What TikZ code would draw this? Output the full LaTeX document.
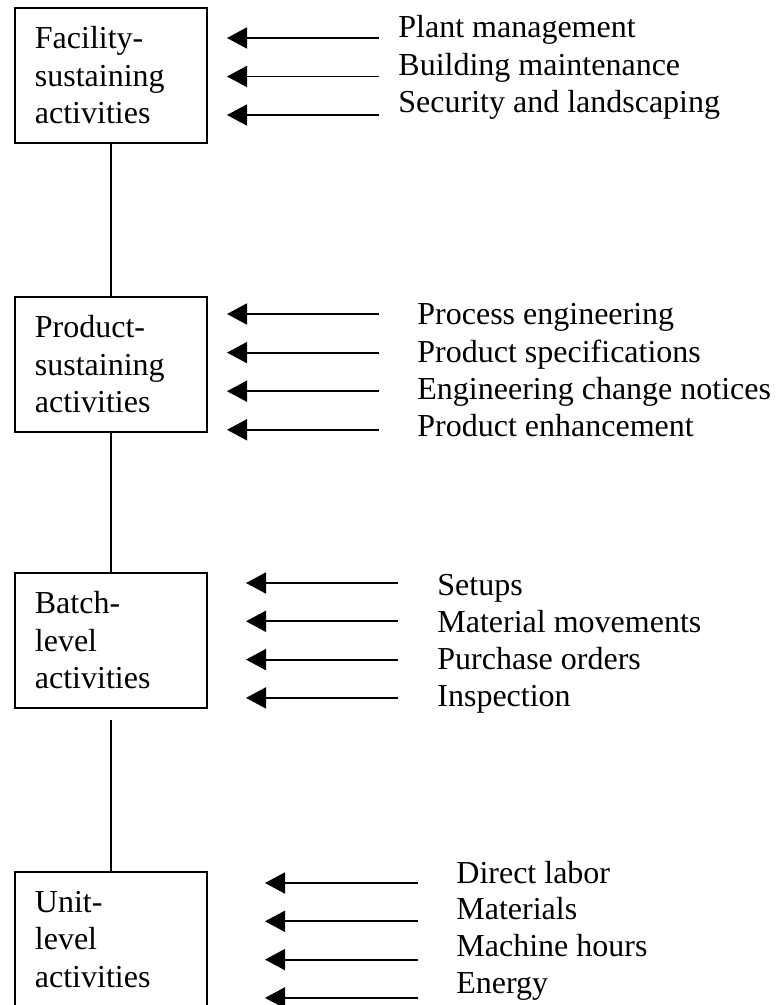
\documentclass[tikz,border=0pt]{standalone}
\usepackage{fontspec}
\setmainfont{Liberation Serif}
\usetikzlibrary{arrows.meta,positioning}

\begin{document}
\begin{tikzpicture}[x=0.5pt,y=-0.5pt,
  mybox/.style={draw,rectangle,line width=0.9pt,anchor=north west,minimum width=96pt,minimum height=67.5pt,
    text width=76pt,inner xsep=10pt,align=left,font=\fontsize{16}{18.7}\selectfont},
  mytext/.style={anchor=base west,inner sep=0pt,font=\fontsize{16}{18.7}\selectfont},
  myarrow/.style={-{Triangle[length=10pt,width=10.5pt]},line width=0.9pt},
  myline/.style={line width=0.9pt}
]
\useasboundingbox (0,0) rectangle (778,1005);
\clip (0,0) rectangle (778,1005);

% the four levels
\node[mybox] (F) at (14,7) {Facility-\\sustaining\\activities};
\node[mybox] (P) at (14,296) {Product-\\sustaining\\activities};
\node[mybox] (B) at (14,572) {Batch-\\level\\activities};
\node[mybox] (U) at (14,871) {Unit-\\level\\activities};

\draw[myline] (F.south) -- (P.north);
\draw[myline] (P.south) -- (B.north);
\draw[myline] ([yshift=-5.5pt]B.south) -- (U.north);

% facility level
\foreach \t [count=\i] in {Plant management,Building maintenance,Security and landscaping}{
\node[mytext] (F\i) at (398,{38+37.2*(\i-1)}) {\t};
\coordinate (Fa\i) at (379,{38+38.5*(\i-1)});
\coordinate (Fb\i) at (227,{38+38.5*(\i-1)});
\draw[myarrow] (Fa\i) -- (Fb\i);
}

% product level
\foreach \t [count=\i] in {Process engineering,Product specifications,Engineering change notices,Product enhancement}{
\node[mytext] (P\i) at (417,{325+37.3*(\i-1)}) {\t};
\coordinate (Pa\i) at (379,{314+38.6*(\i-1)});
\coordinate (Pb\i) at (227,{314+38.6*(\i-1)});
\draw[myarrow] (Pa\i) -- (Pb\i);
}

% batch level
\foreach \t [count=\i] in {Setups,Material movements,Purchase orders,Inspection}{
\node[mytext] (B\i) at (437,{595+37*(\i-1)}) {\t};
\coordinate (Ba\i) at (398,{583+38.3*(\i-1)});
\coordinate (Bb\i) at (246,{583+38.3*(\i-1)});
\draw[myarrow] (Ba\i) -- (Bb\i);
}

% unit level
\foreach \t [count=\i] in {Direct labor,Materials,Machine hours,Energy}{
\node[mytext] (U\i) at (456,{883+36.7*(\i-1)}) {\t};
\coordinate (Ua\i) at (418,{883+38.3*(\i-1)});
\coordinate (Ub\i) at (265,{883+38.3*(\i-1)});
\draw[myarrow] (Ua\i) -- (Ub\i);
}

\end{tikzpicture}
\end{document}
